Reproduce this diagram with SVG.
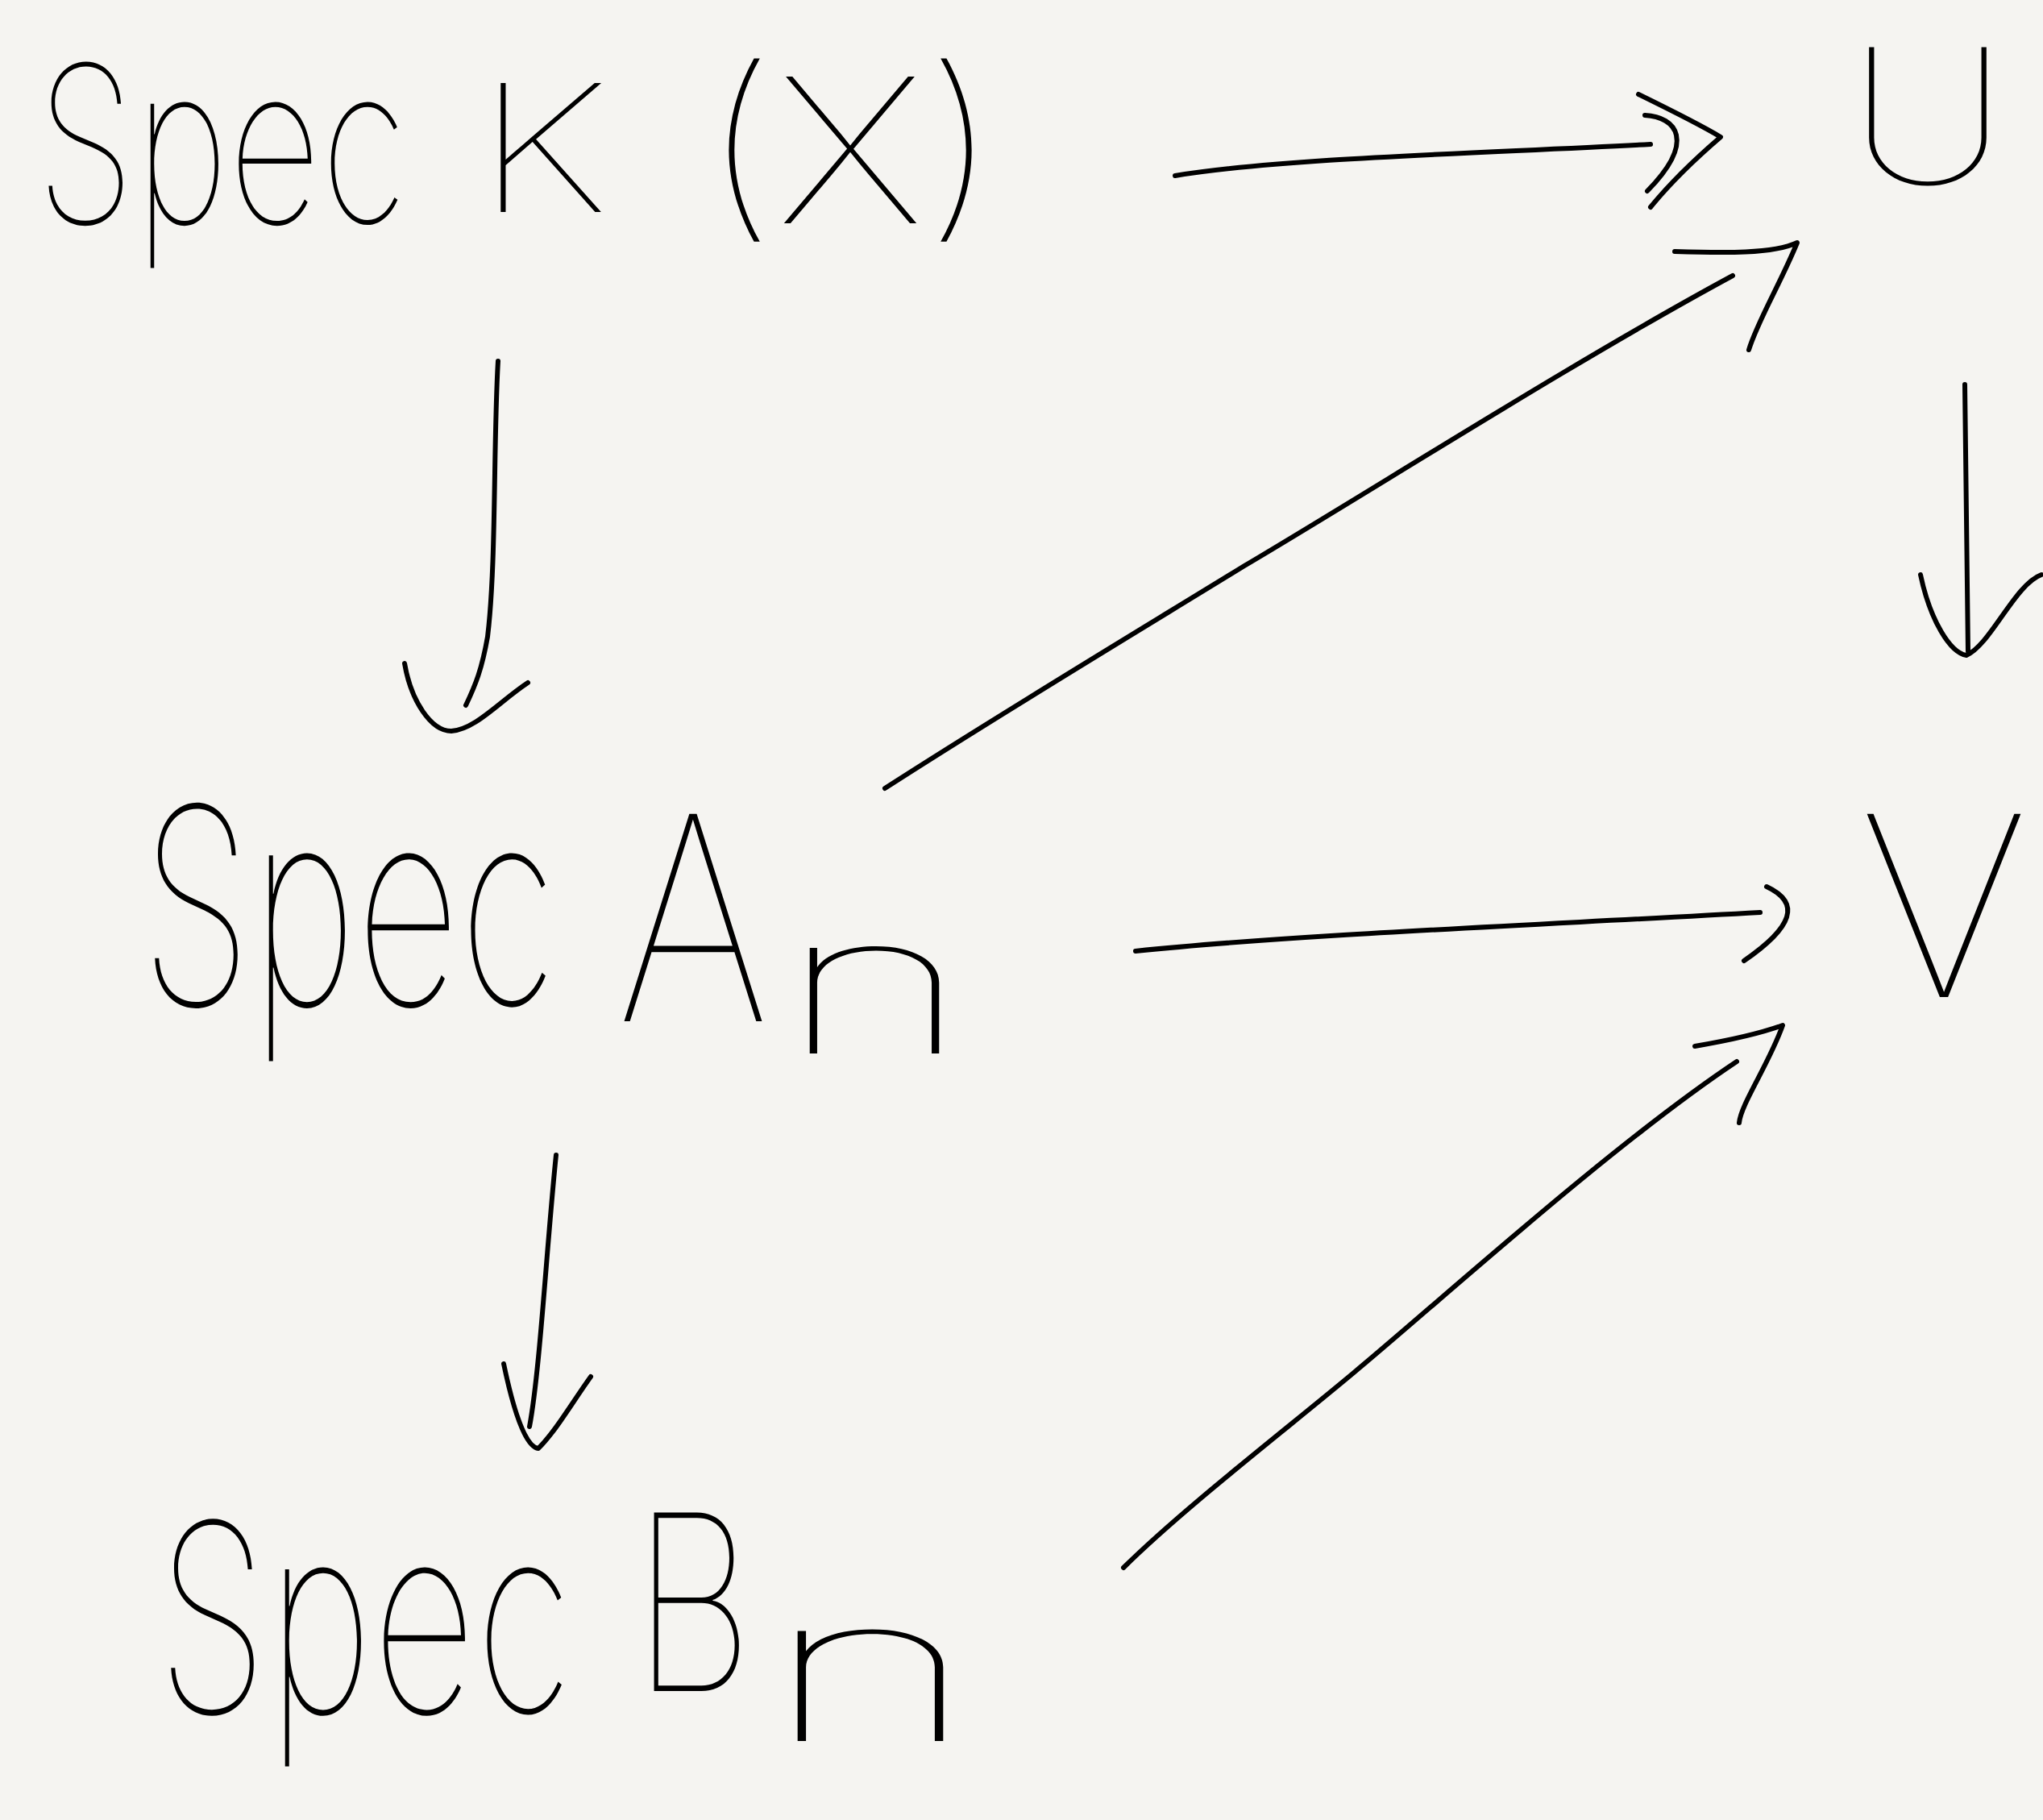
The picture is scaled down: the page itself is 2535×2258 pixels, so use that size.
<svg xmlns="http://www.w3.org/2000/svg" width="2535" height="2258" viewBox="0 0 2535 2258">
<style>
.lbl{font-family:Inter,"Liberation Sans","DejaVu Sans",sans-serif;font-weight:100;fill:#000;}
.ink{fill:none;stroke:#000;stroke-width:6;stroke-linecap:round;stroke-linejoin:round;}
</style>
<rect x="0" y="0" width="2535" height="2258" fill="#f5f4f1"/>
<g id="node-speckx">
<text class="lbl" x="45" y="277" font-size="190" textLength="460" lengthAdjust="spacingAndGlyphs" transform="translate(0,277) scale(1,1.43) translate(0,-277)">Spec</text>
<text class="lbl" x="590" y="263" font-size="220" textLength="165" lengthAdjust="spacingAndGlyphs">K</text>
<text class="lbl" x="870" y="277" font-size="250" textLength="370" lengthAdjust="spacingAndGlyphs">(X)</text>
</g>
<g id="node-specan">
<text class="lbl" x="175" y="1247" font-size="205" textLength="515" lengthAdjust="spacingAndGlyphs" transform="translate(0,1247) scale(1,1.66) translate(0,-1247)">Spec</text>
<text class="lbl" x="765" y="1267" font-size="260" textLength="190" lengthAdjust="spacingAndGlyphs" transform="translate(0,1267) scale(1,1.36) translate(0,-1267)">A</text>
<text class="lbl" x="965" y="1307" font-size="240" textLength="240" lengthAdjust="spacingAndGlyphs">n</text>
</g>
<g id="node-specbn">
<text class="lbl" x="195" y="2125" font-size="205" textLength="515" lengthAdjust="spacingAndGlyphs" transform="translate(0,2125) scale(1,1.59) translate(0,-2125)">Spec</text>
<text class="lbl" x="785" y="2098" font-size="210" textLength="150" lengthAdjust="spacingAndGlyphs" transform="translate(0,2098) scale(1,1.45) translate(0,-2098)">B</text>
<text class="lbl" x="945" y="2160" font-size="250" textLength="270" lengthAdjust="spacingAndGlyphs">n</text>
</g>
<g id="node-u">
<text class="lbl" x="2292" y="228" font-size="200" textLength="200" lengthAdjust="spacingAndGlyphs" transform="translate(0,228) scale(1,1.165) translate(0,-228)">U</text>
</g>
<g id="node-v">
<text class="lbl" x="2306" y="1237" font-size="280" textLength="212" lengthAdjust="spacingAndGlyphs" transform="translate(0,1237) scale(1,1.115) translate(0,-1237)">V</text>
</g>
<g id="connectors">
<path class="ink" d="M1458,218 C1600,195 1850,190 2048,179"/>
<path class="ink" d="M2033,117 C2080,140 2110,155 2135,170 C2100,200 2070,230 2048,257"/>
<path class="ink" d="M2041,143 C2080,145 2105,175 2044,237"/>
<path class="ink" d="M618,448 C612,550 616,700 605,790 C598,830 590,850 578,875"/>
<path class="ink" d="M502,823 C510,870 535,907 560,907 C590,905 620,870 655,847"/>
<path class="ink" d="M1098,978 C1250,880 1450,760 1544,702 C1700,610 1950,450 2150,342"/>
<path class="ink" d="M2078,312 C2140,314 2200,315 2230,301 C2210,350 2180,400 2170,434"/>
<path class="ink" d="M2438,477 C2440,600 2441,720 2442,808"/>
<path class="ink" d="M2383,713 C2395,770 2420,810 2440,813 C2470,800 2500,725 2533,713"/>
<path class="ink" d="M1409,1180 C1600,1160 1900,1148 2184,1132"/>
<path class="ink" d="M2192,1100 C2235,1120 2225,1150 2164,1192"/>
<path class="ink" d="M690,1433 C678,1550 670,1700 657,1770"/>
<path class="ink" d="M625,1692 C635,1740 650,1795 668,1797 C690,1775 710,1740 733,1708"/>
<path class="ink" d="M1394,1945 C1470,1870 1600,1770 1681,1702 C1780,1620 2000,1420 2155,1317"/>
<path class="ink" d="M2103,1298 C2150,1290 2190,1280 2212,1272 C2195,1320 2160,1370 2158,1393"/>
</g>
</svg>
